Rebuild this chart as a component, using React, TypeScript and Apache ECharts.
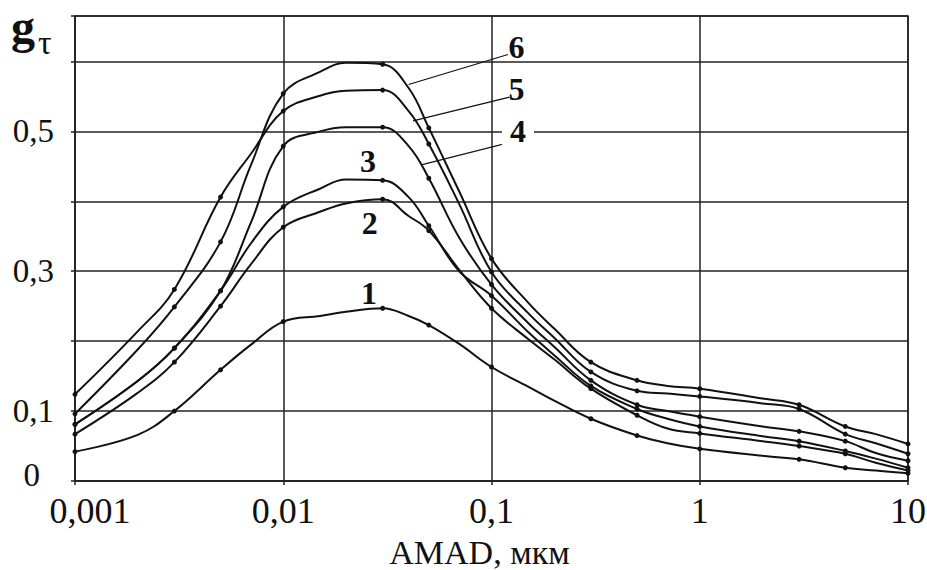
import React, { useEffect, useRef } from "react";
import * as echarts from "echarts";

// particle size (AMAD, µm) at which each curve was read
const sizes = [
  0.001, 0.002, 0.003, 0.005, 0.007, 0.01, 0.015, 0.02, 0.03, 0.04, 0.05, 0.07,
  0.1, 0.15, 0.2, 0.3, 0.5, 0.7, 1, 2, 3, 5, 7, 10,
];
// sizes that carry a point marker on the curves
const marked = [0.001, 0.003, 0.005, 0.01, 0.03, 0.05, 0.1, 0.3, 0.5, 1, 3, 5, 10];

const curve1 = [
  0.042, 0.066, 0.1, 0.159, 0.195, 0.228, 0.236, 0.242, 0.247, 0.236, 0.223, 0.196,
  0.163, 0.135, 0.115, 0.089, 0.065, 0.054, 0.046, 0.036, 0.031, 0.019, 0.015, 0.011,
];
const curve2 = [
  0.067, 0.126, 0.17, 0.25, 0.31, 0.363, 0.385, 0.397, 0.403, 0.379, 0.358, 0.302,
  0.247, 0.203, 0.174, 0.132, 0.094, 0.075, 0.068, 0.057, 0.05, 0.039, 0.026, 0.015,
];
const curve3 = [
  0.081, 0.143, 0.19, 0.272, 0.34, 0.392, 0.418, 0.431, 0.43, 0.406, 0.365, 0.3,
  0.265, 0.213, 0.18, 0.136, 0.103, 0.089, 0.078, 0.064, 0.057, 0.043, 0.032, 0.019,
];
const curve4 = [
  0.081, 0.143, 0.19, 0.272, 0.37, 0.479, 0.5, 0.506, 0.506, 0.479, 0.433, 0.348,
  0.281, 0.226, 0.192, 0.144, 0.109, 0.1, 0.092, 0.078, 0.071, 0.057, 0.04, 0.029,
];
const curve5 = [
  0.124, 0.214, 0.274, 0.406, 0.468, 0.529, 0.551, 0.558, 0.559, 0.529, 0.482, 0.396,
  0.299, 0.24, 0.205, 0.156, 0.129, 0.125, 0.121, 0.111, 0.103, 0.067, 0.054, 0.039,
];
const curve6 = [
  0.096, 0.188, 0.249, 0.342, 0.452, 0.554, 0.585, 0.598, 0.596, 0.562, 0.505, 0.414,
  0.318, 0.255, 0.218, 0.17, 0.144, 0.136, 0.132, 0.118, 0.109, 0.078, 0.067, 0.053,
];

const curveNames = ["1", "2", "3", "4", "5", "6"];

// tick labels
const xTickLabels = ["0,001", "0,01", "0,1", "1", "10"];
const yLabelValues = [0, 0.1, 0.3, 0.5];
const yLabelTexts = ["0", "0,1", "0,3", "0,5"];

// curve numbers, placed in data coordinates
const curveLabelAt = [
  [0.0258, 0.269],
  [0.026, 0.369],
  [0.0255, 0.458],
  [0.134, 0.5],
  [0.132, 0.56],
  [0.132, 0.62],
];
// leader lines from curves 4, 5, 6 to their numbers
const leaderFrom = [
  [0.046, 0.452],
  [0.042, 0.515],
  [0.04, 0.567],
];
const leaderTo = [
  [0.13, 0.486],
  [0.122, 0.549],
  [0.12, 0.61],
];

const SERIF = "'Liberation Serif', 'Times New Roman', serif";
const INK = "#111";

export default function App() {
  const ref = useRef<HTMLDivElement>(null);

  useEffect(() => {
    if (!ref.current) return;
    const chart = echarts.init(ref.current, null, { renderer: "svg" });

    const curves = [curve1, curve2, curve3, curve4, curve5, curve6];
    const series = curves.map((vals, i) => ({
      name: curveNames[i],
      type: "line",
      smooth: 0.4,
      symbol: "circle",
      symbolSize: 5,
      showSymbol: true,
      z: 3,
      itemStyle: { color: INK },
      lineStyle: { color: INK, width: 2 },
      data: sizes.map((x, j) =>
        marked.includes(x) ? [x, vals[j]] : { value: [x, vals[j]], symbol: "none" }
      ),
    }));

    chart.setOption({
      animation: false,
      grid: {
        left: 75,
        right: 19,
        top: 16,
        bottom: 89,
        outerBoundsMode: "none",
        containLabel: false,
        show: true,
        borderColor: "#222",
        borderWidth: 1.5,
      },
      xAxis: {
        type: "log",
        logBase: 10,
        min: 0.001,
        max: 10,
        axisLine: { show: true, onZero: false, lineStyle: { color: "#222", width: 1.5 } },
        axisTick: { show: true, length: 4, lineStyle: { color: "#222", width: 1.5 } },
        splitLine: { show: true, lineStyle: { color: "#222", width: 1.5 } },
        minorTick: { show: false },
        axisLabel: {
          margin: 12,
          color: INK,
          fontFamily: SERIF,
          fontSize: 36,
          formatter: (v: number) => {
            const k = Math.round(Math.log10(v)) + 3;
            const t = xTickLabels[k] ?? "";
            return k === 0 ? `{first|${t}}` : t;
          },
          rich: {
            first: { padding: [0, 0, 0, 30], fontFamily: SERIF, fontSize: 36, color: INK },
          },
        },
        name: "AMAD, мкм",
        nameLocation: "middle",
        nameGap: 54,
        nameTextStyle: {
          color: INK,
          fontFamily: SERIF,
          fontSize: 34,
          padding: [0, 24, 0, 0],
        },
      },
      yAxis: {
        type: "value",
        min: 0,
        max: 0.665,
        interval: 0.1,
        axisLine: { show: true, lineStyle: { color: "#222", width: 1.5 } },
        axisTick: { show: true, length: 4, lineStyle: { color: "#222", width: 1.5 } },
        splitLine: { show: true, lineStyle: { color: "#222", width: 1.5 } },
        axisLabel: {
          margin: 21,
          color: INK,
          fontFamily: SERIF,
          fontSize: 33,
          formatter: (v: number) => {
            const idx = yLabelValues.findIndex((y) => Math.abs(y - v) < 1e-6);
            if (idx < 0) return "";
            return idx === 0 ? `{zero|${yLabelTexts[0]}}` : yLabelTexts[idx];
          },
          rich: {
            zero: { padding: [0, 14, 12, 0], fontFamily: SERIF, fontSize: 33, color: INK },
          },
        },
      },
      series,
    });

    const px = (p: number[]) => chart.convertToPixel({ gridIndex: 0 }, p) as number[];

    const graphic: any[] = [
      {
        type: "text",
        left: 11,
        top: 2,
        style: { text: "g", fill: INK, font: `bold 48px ${SERIF}` },
      },
      {
        type: "text",
        left: 38,
        top: 25,
        style: { text: "τ", fill: INK, font: `34px ${SERIF}` },
      },
    ];

    leaderFrom.forEach((a, i) => {
      const p1 = px(a);
      const p2 = px(leaderTo[i]);
      graphic.push({
        type: "line",
        z: 5,
        shape: { x1: p1[0], y1: p1[1], x2: p2[0], y2: p2[1] },
        style: { stroke: INK, lineWidth: 1.2 },
      });
    });

    curveLabelAt.forEach((c, i) => {
      const p = px(c);
      graphic.push({
        type: "text",
        z: 6,
        x: p[0],
        y: p[1],
        style: {
          text: curveNames[i],
          fill: INK,
          font: `bold 32px ${SERIF}`,
          align: "center",
          verticalAlign: "middle",
          backgroundColor: i === 3 ? "#fff" : undefined,
          padding: i === 3 ? [0, 8] : 0,
        },
      });
    });

    chart.setOption({ graphic });

    return () => chart.dispose();
  }, []);

  return (
    <div
      ref={ref}
      style={{ position: "fixed", left: 0, top: 0, width: 927, height: 570, background: "#fff" }}
    />
  );
}
